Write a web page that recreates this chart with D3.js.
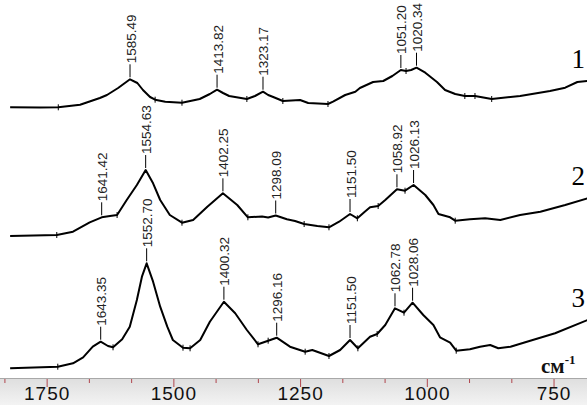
<!DOCTYPE html>
<html>
<head>
<meta charset="utf-8">
<script src="https://cdn.jsdelivr.net/npm/d3@7"></script>
<style>
  body { margin: 0; background: #fff; }
  svg { display: block; }
</style>
</head>
<body>
<div id="chart"></div>
<script>
// [wavenumber cm-1, stacked absorbance]
const spectrum1 = [
  [1822, 2.707], [1763, 2.705], [1727, 2.707], [1684, 2.733], [1645, 2.80], [1631, 2.83],
  [1609, 2.90], [1585.5, 2.987], [1571, 2.95], [1560, 2.88], [1546, 2.81], [1536, 2.783],
  [1516, 2.763], [1483, 2.753], [1448, 2.79], [1428, 2.84], [1413.8, 2.883], [1402, 2.85],
  [1390, 2.82], [1355, 2.79], [1339, 2.82], [1323.2, 2.863], [1313, 2.83], [1303, 2.81],
  [1284, 2.77], [1250, 2.78], [1234, 2.75], [1195, 2.74], [1185, 2.763], [1161, 2.83],
  [1141, 2.863], [1132, 2.90], [1106, 2.96], [1086, 2.97], [1068, 3.02], [1051.2, 3.08],
  [1041, 3.07], [1031, 3.08], [1020.3, 3.103], [1003, 3.053], [980, 2.96], [964, 2.88],
  [944, 2.84], [925, 2.82], [905, 2.82], [872, 2.79], [816, 2.82], [757, 2.87],
  [727, 2.903], [703, 2.96], [683, 2.97]
];
const spectrum2 = [
  [1822, 1.42], [1730, 1.43], [1698, 1.463], [1665, 1.557], [1641.4, 1.607], [1625, 1.62],
  [1611, 1.63], [1592, 1.78], [1572, 1.93], [1554.6, 2.08], [1540, 1.947], [1526, 1.78],
  [1507, 1.63], [1483, 1.553], [1461, 1.58], [1433, 1.713], [1402.3, 1.847], [1374, 1.73],
  [1353, 1.607], [1325, 1.615], [1313, 1.605], [1298.1, 1.625], [1276, 1.587], [1260, 1.57],
  [1242, 1.54], [1216, 1.52], [1193, 1.507], [1173, 1.563], [1151.5, 1.64], [1137, 1.597],
  [1123, 1.66], [1112, 1.707], [1096, 1.72], [1082, 1.78], [1058.9, 1.887], [1043, 1.873],
  [1026.1, 1.93], [1003, 1.83], [987, 1.73], [977, 1.64], [954, 1.607], [944, 1.573],
  [915, 1.587], [885, 1.597], [855, 1.58], [816, 1.63], [776, 1.663], [727, 1.73],
  [683, 1.797]
];
const spectrum3 = [
  [1822, 0.097], [1728, 0.113], [1698, 0.147], [1678, 0.207], [1659, 0.313], [1643.4, 0.363],
  [1629, 0.32], [1619, 0.307], [1601, 0.387], [1586, 0.513], [1572, 0.78], [1562, 1.013],
  [1552.7, 1.147], [1540, 0.963], [1526, 0.713], [1512, 0.513], [1501, 0.38], [1481, 0.303],
  [1467, 0.297], [1447, 0.38], [1428, 0.563], [1400.3, 0.763], [1378, 0.647], [1355, 0.48],
  [1333, 0.337], [1313, 0.373], [1296.2, 0.403], [1270, 0.313], [1240, 0.263], [1226, 0.28],
  [1193, 0.22], [1171, 0.28], [1151.5, 0.38], [1136, 0.297], [1112, 0.413], [1098, 0.44],
  [1082, 0.53], [1062.8, 0.697], [1045, 0.653], [1028.1, 0.753], [1007, 0.63], [987, 0.53],
  [974, 0.407], [954, 0.353], [942, 0.273], [915, 0.287], [895, 0.313], [875, 0.33],
  [859, 0.297], [835, 0.313], [796, 0.373], [747, 0.447], [683, 0.58]
];

const peaks1 = [1585.49, 1413.82, 1323.17, 1051.20, 1020.34];
const peaks2 = [1641.42, 1554.63, 1402.25, 1298.09, 1151.50, 1058.92, 1026.13];
const peaks3 = [1643.35, 1552.70, 1400.32, 1296.16, 1151.50, 1062.78, 1028.06];

// little "+" marks sitting on each trace
const marks1 = [1727, 1536, 1483, 1355, 1284, 1195, 1041, 925, 905, 872];
const marks2 = [1730, 1611, 1483, 1353, 1242, 1193, 1137, 1096, 1043, 944];
const marks3 = [1728, 1619, 1481, 1467, 1333, 1313, 1240, 1193, 1136, 1098, 1045, 942];

const traceNames = ["1", "2", "3"];
const majorTicks = [1750, 1500, 1250, 1000, 750];
const minorTicks = [1833.3, 1666.7, 1583.3, 1416.7, 1333.3, 1166.7, 1083.3, 916.7, 833.3];

const width = 587, height = 405, bandTop = 378;

const svg = d3.select("#chart").append("svg")
    .attr("width", width).attr("height", height);

const x = d3.scaleLinear().domain([1842, 684]).range([0, width]);
const y = d3.scaleLinear().domain([0, 3.78]).range([bandTop, 0]);

const traces = [
  { name: traceNames[0], data: spectrum1, peaks: peaks1, marks: marks1 },
  { name: traceNames[1], data: spectrum2, peaks: peaks2, marks: marks2 },
  { name: traceNames[2], data: spectrum3, peaks: peaks3, marks: marks3 }
];

// linear interpolation of a trace at a wavenumber
function valueAt(data, wn) {
  for (let i = 0; i < data.length - 1; i++) {
    const a = data[i], b = data[i + 1];
    if (wn <= a[0] && wn >= b[0]) {
      const t = (a[0] - wn) / (a[0] - b[0]);
      return a[1] + t * (b[1] - a[1]);
    }
  }
  return data[data.length - 1][1];
}

const line = d3.line().x(d => x(d[0])).y(d => y(d[1]));

traces.forEach(tr => {
  const g = svg.append("g");

  g.append("path")
      .datum(tr.data)
      .attr("fill", "none")
      .attr("stroke", "#000")
      .attr("stroke-width", 2)
      .attr("stroke-linejoin", "round")
      .attr("d", line);

  g.selectAll("line.mark")
      .data(tr.marks)
      .enter().append("line")
      .attr("class", "mark")
      .attr("x1", d => x(d)).attr("x2", d => x(d))
      .attr("y1", d => y(valueAt(tr.data, d)) - 3)
      .attr("y2", d => y(valueAt(tr.data, d)) + 3)
      .attr("stroke", "#000")
      .attr("stroke-width", 1);

  const lab = g.selectAll("g.peak")
      .data(tr.peaks)
      .enter().append("g")
      .attr("class", "peak");

  lab.append("line")
      .attr("x1", d => x(d)).attr("x2", d => x(d))
      .attr("y1", d => y(valueAt(tr.data, d)) - 2)
      .attr("y2", d => y(valueAt(tr.data, d)) - 15)
      .attr("stroke", "#000")
      .attr("stroke-width", 1);

  lab.append("text")
      .attr("transform", d => `translate(${x(d) + 5.5},${y(valueAt(tr.data, d)) - 16}) rotate(-90)`)
      .attr("font-family", "'Liberation Sans Narrow', 'Liberation Sans', Arial, sans-serif")
      .attr("font-size", 13.5)
      .attr("fill", "#222")
      .text(d => d.toFixed(2));

  const last = tr.data[tr.data.length - 1];
  svg.append("text")
      .attr("x", 585)
      .attr("y", y(last[1]) - 13)
      .attr("text-anchor", "end")
      .attr("font-family", "'Liberation Serif', 'Times New Roman', serif")
      .attr("font-size", 27)
      .text(tr.name);
});

// axis band
const defs = svg.append("defs");
const grad = defs.append("linearGradient")
    .attr("id", "band").attr("x1", 0).attr("x2", 0).attr("y1", 0).attr("y2", 1);
grad.append("stop").attr("offset", "0%").attr("stop-color", "#dedede");
grad.append("stop").attr("offset", "100%").attr("stop-color", "#f3f3f3");

svg.append("rect")
    .attr("x", 0).attr("y", bandTop)
    .attr("width", width).attr("height", height - bandTop)
    .attr("fill", "url(#band)");
svg.append("line")
    .attr("x1", 0).attr("x2", width)
    .attr("y1", bandTop + 0.5).attr("y2", bandTop + 0.5)
    .attr("stroke", "#a8a8a8");

const minorAxis = svg.append("g")
    .attr("transform", `translate(0,${bandTop + 1})`)
    .call(d3.axisBottom(x).tickValues(minorTicks).tickSize(4).tickFormat(""));
minorAxis.select(".domain").remove();
minorAxis.selectAll("line").attr("stroke", "#b0464e");

const majorAxis = svg.append("g")
    .attr("transform", `translate(0,${bandTop + 1})`)
    .call(d3.axisBottom(x).tickValues(majorTicks).tickSize(8).tickPadding(0).tickFormat(d3.format("d")));
majorAxis.select(".domain").remove();
majorAxis.selectAll("line").attr("stroke", "#b0464e");
majorAxis.selectAll("text")
    .attr("font-family", "'Liberation Sans', Arial, sans-serif")
    .attr("font-size", 19)
    .attr("letter-spacing", 1)
    .attr("fill", "#111");

// unit label
const unit = svg.append("text")
    .attr("x", 541).attr("y", 373)
    .attr("font-family", "'Liberation Serif', 'Times New Roman', serif")
    .attr("font-size", 21)
    .attr("font-weight", "bold")
    .attr("fill", "#111")
    .text("см");
unit.append("tspan")
    .attr("dy", -9)
    .attr("font-size", 13)
    .text("-1");
</script>
</body>
</html>
